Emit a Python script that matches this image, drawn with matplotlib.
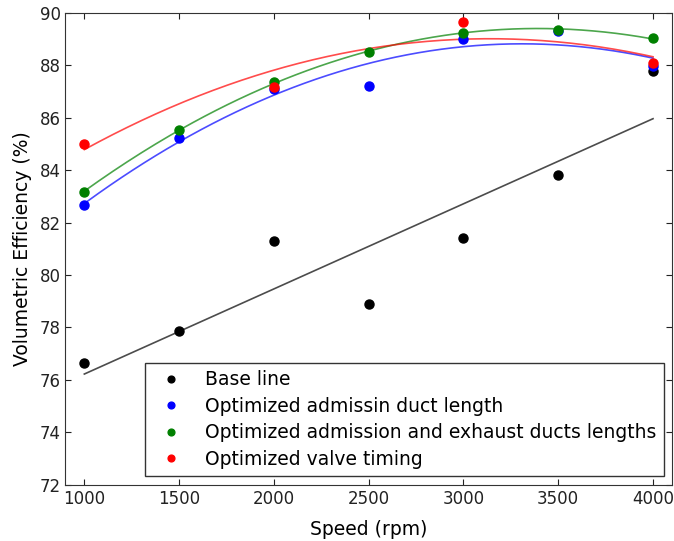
import matplotlib
matplotlib.use("Agg")
import matplotlib.pyplot as plt
import numpy as np

# engine speed (rpm) and measured volumetric efficiency (%)
speed = [1000, 1500, 2000, 2500, 3000, 3500, 4000]
base_line = [76.63, 77.86, 81.28, 78.89, 81.39, 83.8, 87.78]
duct_length = [82.68, 85.23, 87.09, 87.22, 89.0, 89.3, 87.95]
duct_lengths_both = [83.18, 85.52, 87.34, 88.52, 89.24, 89.33, 89.03]
valve_speed = [1000, 2000, 3000, 4000]
valve_timing = [85.0, 87.15, 89.65, 88.1]

series = [
    (speed, base_line, 'k', 1, "Base line"),
    (speed, duct_length, 'b', 2, "Optimized admissin duct length"),
    (speed, duct_lengths_both, 'g', 2, "Optimized admission and exhaust ducts lengths"),
    (valve_speed, valve_timing, 'r', 2, "Optimized valve timing"),
]


def draw():
    fig = plt.figure(figsize=(6.74, 5.41), dpi=100)
    ax = fig.add_axes([0.097, 0.104, 0.9, 0.8725])
    xs = np.linspace(1000, 4000, 200)

    for x, y, color, deg, label in series:
        ax.plot(x, y, 'o', color=color, markeredgecolor=color,
                markersize=6.5, label=label, zorder=3)
        fit = np.polyfit(x, y, deg)
        ax.plot(xs, np.polyval(fit, xs), '-', color=color, alpha=0.7,
                linewidth=1.2, zorder=2)

    ax.set_xlim(900, 4100)
    ax.set_ylim(72, 90)
    ax.set_xticks(range(1000, 4001, 500))
    ax.set_yticks(range(72, 91, 2))
    ax.tick_params(direction='in', top=True, right=True, length=4,
                   labelsize=12, colors='#222222')
    for s in ax.spines.values():
        s.set_color('#333333')
    ax.set_xlabel("Speed (rpm)", fontsize=13.5, labelpad=9)
    ax.set_ylabel("Volumetric Efficiency (%)", fontsize=13.5, labelpad=5)

    leg = ax.legend(loc='lower right', numpoints=1, fontsize=13.5,
                    fancybox=False, framealpha=1, borderaxespad=0.45,
                    labelspacing=0.4, markerscale=0.75)
    leg.get_frame().set_edgecolor('#333333')

    fig.savefig("out.png", dpi=100)


def main():
    draw()


if __name__ == '__main__':
    main()
